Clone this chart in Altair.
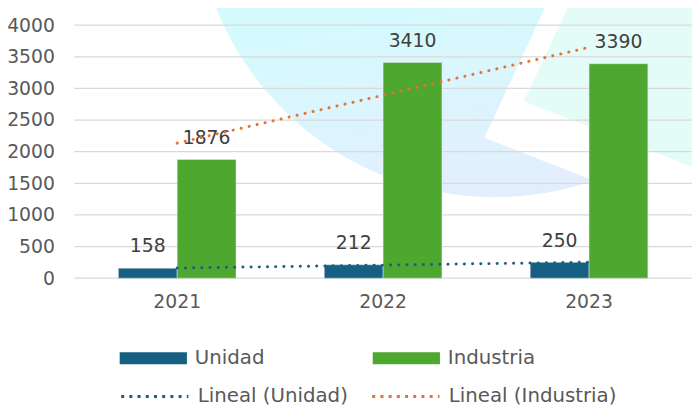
import altair as alt
import pandas as pd
import numpy as np

# ---- data ----
years = ["2021", "2022", "2023"]
series = ["Unidad", "Industria"]
unidad = [158, 212, 250]
industria = [1876, 3410, 3390]
trend_names = ["Lineal (Unidad)", "Lineal (Industria)"]
y_ticks = [0, 500, 1000, 1500, 2000, 2500, 3000, 3500, 4000]

bar_colors = ["#156082", "#4EA72E"]
trend_colors = ["#156082", "#E97132"]

bars_df = pd.DataFrame({
    "year": years * 2,
    "serie": [series[0]] * 3 + [series[1]] * 3,
    "value": unidad + industria,
})

# linear trendlines (least squares fit on the category index, as Excel does)
idx = np.arange(1, len(years) + 1)
rows = []
for name, vals in zip(trend_names, [unidad, industria]):
    coef = np.polyfit(idx, vals, 1)
    fit = np.polyval(coef, idx)
    for y, v in zip(years, fit):
        rows.append({"year": y, "trend": name, "value": float(v)})
trend_df = pd.DataFrame(rows)
ticks_df = pd.DataFrame({"value": y_ticks})

FONT = "DejaVu Sans"
GREY = "#595959"

# ---- decorative background artwork (pixel paths, plot-area coordinates) ----
one = pd.DataFrame({"k": [0]})
circle_path = "M122,-130 A304,304 0 1,0 730,-130 A304,304 0 1,0 122,-130 Z"
white_path = "M482,-30 L640,-30 L640,202 L415,114 Z"
mint_path = "M505,-30 L640,-30 L640,149 L455,77 Z"

def deco(path, fill):
    return alt.Chart(one).mark_point(
        shape=path, size=4, filled=True, fill=fill, opacity=1,
        strokeWidth=0
    ).encode(x=alt.value(0), y=alt.value(0))

cyan_grad = alt.LinearGradient(
    gradient="linear",
    stops=[alt.GradientStop(color="#D5FAFE", offset=0.68),
           alt.GradientStop(color="#E3EEFC", offset=1.0)],
    x1=0.3, y1=0, x2=0.5, y2=1,
)
bg_circle = deco(circle_path, cyan_grad)
bg_white = deco(white_path, "#FFFFFF")
bg_mint = deco(mint_path, "#E4FCF7")

y_scale = alt.Scale(domain=[0, 4000], nice=False)
x_scale = alt.Scale(domain=years, paddingInner=0.4286, paddingOuter=0.2143)

x_axis = alt.Axis(title=None, labelAngle=0, domain=False, ticks=False,
                  labelPadding=15, labelFontSize=19, labelFont=FONT,
                  labelColor=GREY, grid=False)
y_axis = alt.Axis(title=None, values=y_ticks, format="d", labelOverlap=False,
                  domain=False, ticks=False, grid=False,
                  labelPadding=20, labelFontSize=19, labelFont=FONT,
                  labelColor=GREY)

def X():
    return alt.X("year:N", sort=years, scale=x_scale, axis=x_axis)

def Y():
    return alt.Y("value:Q", scale=y_scale, axis=y_axis)

grid = alt.Chart(ticks_df).mark_rule(color="#D9D9D9", strokeWidth=1.3).encode(
    y=Y()
)

xoff = alt.XOffset("serie:N", sort=series,
                   scale=alt.Scale(domain=series, paddingInner=0, paddingOuter=0))

bars = alt.Chart(bars_df).mark_bar(stroke="#E8E8E8", strokeWidth=0.5).encode(
    x=X(),
    xOffset=xoff,
    y=Y(),
    fill=alt.Fill(
        "serie:N",
        scale=alt.Scale(domain=series, range=bar_colors),
        legend=alt.Legend(
            title=None, orient="none", legendX=46, legendY=303,
            direction="horizontal", columns=2, padding=0,
            symbolType="M-1,-0.176H1V0.176H-1Z", symbolSize=4624,
            symbolStrokeWidth=0, symbolOpacity=1,
            labelFont=FONT, labelFontSize=20, labelColor=GREY,
            labelOffset=8, columnPadding=109, labelLimit=400,
        ),
    ),
)

labels = alt.Chart(bars_df).mark_text(
    baseline="alphabetic", dy=-16, fontSize=19, font=FONT, color="#404040"
).encode(
    x=X(),
    xOffset=xoff,
    y=Y(),
    text=alt.Text("value:Q"),
)

trend = alt.Chart(trend_df).mark_line(
    strokeDash=[0.1, 8.2], strokeCap="round", strokeWidth=3
).encode(
    x=X(),
    y=Y(),
    stroke=alt.Stroke(
        "trend:N",
        scale=alt.Scale(domain=trend_names, range=trend_colors),
        legend=alt.Legend(
            title=None, orient="none", legendX=46, legendY=340,
            direction="horizontal", columns=2, padding=0,
            symbolType="stroke", symbolSize=4624,
            symbolStrokeWidth=3, symbolDash=[3, 5.3],
            labelFont=FONT, labelFontSize=20, labelColor=GREY,
            labelOffset=8, columnPadding=18, labelLimit=400,
        ),
    ),
    detail="trend:N",
)

chart = alt.layer(bg_circle, bg_white, bg_mint, grid, bars, labels, trend).properties(
    width=625,
    height=256,
    autosize=alt.AutoSizeParams(type="none"),
    padding={"left": 67, "top": 15, "right": 0, "bottom": 130},
).configure_view(stroke=None).resolve_scale(fill="independent", stroke="independent")

chart.save("out.html", embed_options={"renderer": "svg", "actions": False})
